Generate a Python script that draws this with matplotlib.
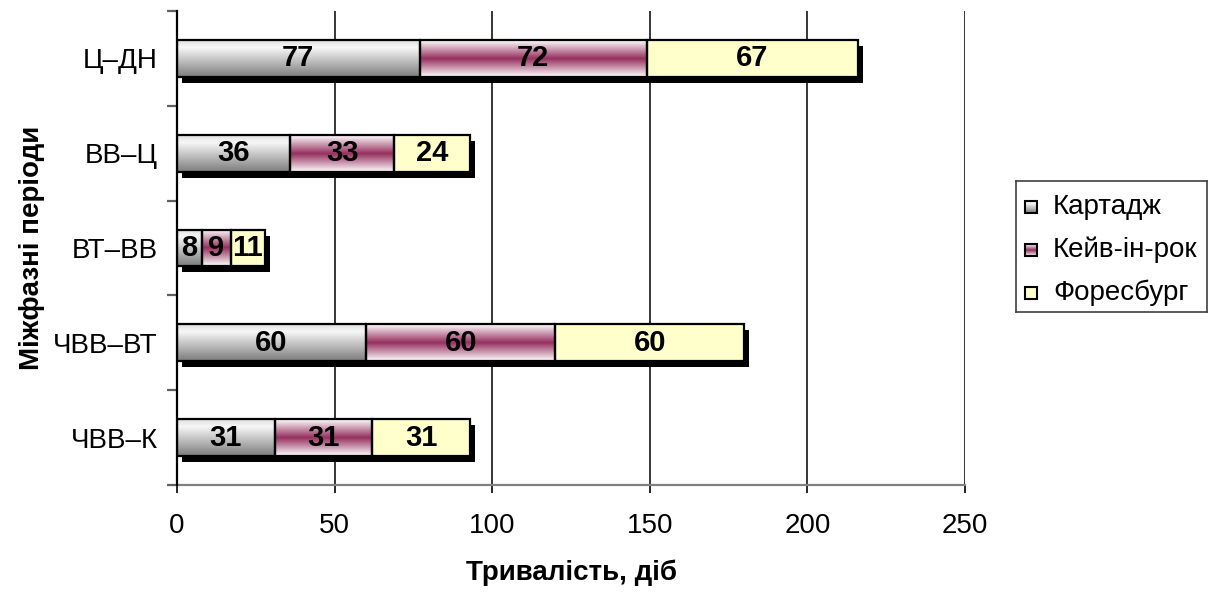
import numpy as np
import matplotlib
matplotlib.use("Agg")
import matplotlib.pyplot as plt
from matplotlib.colors import LinearSegmentedColormap
from matplotlib.transforms import ScaledTranslation

plt.rcParams['font.family'] = ['Liberation Sans', 'DejaVu Sans']

# Inter-phase periods (bottom to top) and their duration in days per cultivar
periods = ['ЧВВ–К', 'ЧВВ–ВТ', 'ВТ–ВВ', 'ВВ–Ц', 'Ц–ДН']
cartage = [31, 60, 8, 36, 77]
cave_in_rock = [31, 60, 9, 33, 72]
foresburg = [31, 60, 11, 24, 67]
series_names = ['Картадж', 'Кейв-ін-рок', 'Форесбург']
x_ticks = [0, 50, 100, 150, 200, 250]

FS = 20

# Vertical fills: top of the bar is the first stop
gray_fill = LinearSegmentedColormap.from_list(
    'grayfill', [(0.0, '#dedede'), (0.2, '#f7f7f7'), (1.0, '#7c7c7c')])
plum_fill = LinearSegmentedColormap.from_list(
    'plumfill', [(0.0, '#ffffff'), (0.5, '#96305f'), (1.0, '#ffffff')])
yellow_fill = LinearSegmentedColormap.from_list(
    'yellowfill', [(0.0, '#ffffcc'), (1.0, '#ffffcc')])
fills = [gray_fill, plum_fill, yellow_fill]

grad = np.linspace(0, 1, 256).reshape(-1, 1)

fig = plt.figure(figsize=(12.12, 5.92), dpi=100)
W, H = 1212, 592
ax = fig.add_axes([177 / W, 1 - 485 / H, (965 - 177) / W, (485 - 11) / H])

y = np.arange(len(periods))
bar_h = 0.39
series = [np.array(cartage), np.array(cave_in_rock), np.array(foresburg)]
totals = sum(series)

# drop shadow under each stacked bar
shadow_tr = ax.transData + ScaledTranslation(5 / 100, -6 / 100, fig.dpi_scale_trans)
shadows = ax.barh(y, totals, height=bar_h, color='black', zorder=2)
for p in shadows:
    p.set_transform(shadow_tr)

left = np.zeros(len(periods))
for vals, cmap in zip(series, fills):
    for yi, l, v in zip(y, left, vals):
        ax.imshow(grad, cmap=cmap, extent=(l, l + v, yi - bar_h / 2, yi + bar_h / 2),
                  origin='upper', aspect='auto', interpolation='bilinear', zorder=3)
        ax.text(l + v / 2, yi, f'{v}', ha='center', va='center',
                fontsize=FS + 1, fontweight='bold', color='black', zorder=5)
    ax.barh(y, vals, left=left, height=bar_h, fill=False, edgecolor='black',
            linewidth=1.6, zorder=4)
    left = left + vals

ax.set_xlim(0, 250)
ax.set_ylim(-0.5, len(periods) - 0.5)

# axes styling
for side in ('top', 'right'):
    ax.spines[side].set_visible(False)
ax.spines['left'].set_color('black')
ax.spines['left'].set_linewidth(1.6)
ax.spines['bottom'].set_color('#808080')
ax.spines['bottom'].set_linewidth(1.6)
ax.spines['left'].set_zorder(6)

ax.set_xticks(x_ticks)
ax.set_xticklabels([str(t) for t in x_ticks], fontsize=FS)
ax.tick_params(axis='x', direction='out', length=6, width=1.2, color='black', pad=14)
ax.grid(axis='x', color='black', linewidth=1.1, zorder=1)
ax.set_axisbelow(True)

ax.set_yticks(np.arange(-0.5, len(periods), 1.0))
ax.set_yticklabels([])
ax.tick_params(axis='y', which='major', direction='out', length=7, width=1.6, color='#606060')
ax.set_yticks(y, minor=True)
ax.set_yticklabels(periods, minor=True, fontsize=FS)
ax.tick_params(axis='y', which='minor', length=0, pad=14)

ax.set_xlabel('Тривалість, діб', fontsize=FS, fontweight='bold', labelpad=15)
ax.set_ylabel('Міжфазні періоди', fontsize=FS, fontweight='bold', labelpad=6)

# legend panel
lg = fig.add_axes([1016 / W, 1 - 312 / H, (1207 - 1016) / W, (312 - 181) / H])
lg.set_xticks([])
lg.set_yticks([])
for s in lg.spines.values():
    s.set_color('#404040')
    s.set_linewidth(1.2)
rows = [26, 69, 112]
for name, cmap, ry in zip(series_names, fills, rows):
    lg.imshow(grad, cmap=cmap, extent=(9, 21, ry + 6, ry - 6), origin='upper',
              aspect='auto', interpolation='bilinear')
    lg.add_patch(plt.Rectangle((9, ry - 6), 12, 12, fill=False, edgecolor='black', linewidth=1.5))
    lg.text(37, ry, name, fontsize=FS, va='center', ha='left')
lg.set_xlim(0, 191)
lg.set_ylim(131, 0)

fig.savefig('out.png', dpi=100)
